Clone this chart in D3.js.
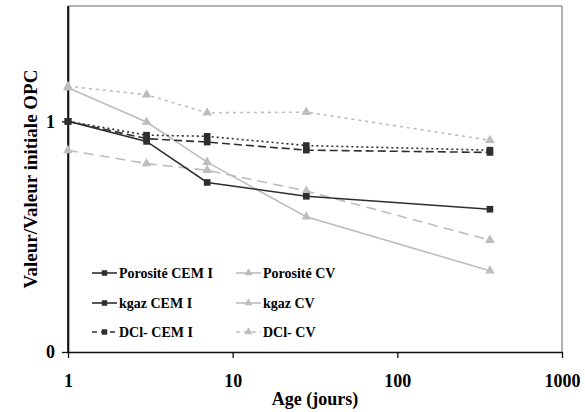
<!DOCTYPE html>
<html><head><meta charset="utf-8">
<script src="https://cdn.jsdelivr.net/npm/d3@7"></script>
<style>html,body{margin:0;padding:0;background:#fff}svg{display:block}</style>
</head><body>
<svg id="c" width="585" height="412"></svg>
<script>
const ages = [1, 3, 7, 28, 365];
const porositeCEM = [1.0, 0.94, 0.935, 0.895, 0.875];
const kgazCEM = [1.0, 0.913, 0.735, 0.675, 0.619];
const dclCEM = [1.0, 0.925, 0.91, 0.875, 0.865];
const porositeCV = [1.152, 1.115, 1.037, 1.04, 0.918];
const kgazCV = [1.146, 0.997, 0.823, 0.586, 0.352];
const dclCV = [0.874, 0.817, 0.788, 0.698, 0.485];
const xTicks = [1, 10, 100, 1000];
const yTicks = [0, 1];
const seriesNames = ["Porosité CEM I", "Porosité CV", "kgaz CEM I", "kgaz CV", "DCl- CEM I", "DCl- CV"];

const BLACK = "#2e2e2e", GRAY = "#bdbdbd";
const series = [
  {name: seriesNames[0], vals: porositeCEM, color: BLACK, dash: "2,3", legDash: null, marker: "sq", w: 1.6},
  {name: seriesNames[1], vals: porositeCV, color: GRAY, dash: "3,4", legDash: null, marker: "tri", w: 1.6},
  {name: seriesNames[2], vals: kgazCEM, color: BLACK, dash: null, legDash: null, marker: "sq", w: 1.6},
  {name: seriesNames[3], vals: kgazCV, color: GRAY, dash: null, legDash: null, marker: "tri", w: 1.6},
  {name: seriesNames[4], vals: dclCEM, color: BLACK, dash: "8,4", legDash: "5,4", marker: "sq", w: 1.6},
  {name: seriesNames[5], vals: dclCV, color: GRAY, dash: "10,6", legDash: "4,4", marker: "tri", w: 1.6}
];

const L = 68, R = 562, T = 6, B = 352;
const x = d3.scaleLog().domain([1, 1000]).range([L, R]);
const y = d3.scaleLinear().domain([0, 1.5]).range([B, T]);
const svg = d3.select("#c");
const font = "'Liberation Serif','Times New Roman',serif";

// frame
svg.append("line").attr("x1", L).attr("x2", R).attr("y1", T).attr("y2", T).attr("stroke", "#9a9a9a").attr("stroke-width", 1.5);
svg.append("line").attr("x1", R).attr("x2", R).attr("y1", T).attr("y2", B).attr("stroke", "#9a9a9a").attr("stroke-width", 1.5);

// axes
const xa = svg.append("g").attr("transform", `translate(0,${B})`)
  .call(d3.axisBottom(x).tickValues(xTicks).tickFormat(d3.format("d")).tickSize(6).tickSizeOuter(0).tickPadding(16));
const ya = svg.append("g").attr("transform", `translate(${L},0)`)
  .call(d3.axisLeft(y).tickValues(yTicks).tickFormat(d3.format("d")).tickSize(6).tickSizeOuter(0).tickPadding(7));
[xa, ya].forEach(g => {
  g.select(".domain").attr("stroke", "#111").attr("stroke-width", 1.6);
  g.selectAll(".tick line").attr("stroke", "#111").attr("stroke-width", 1.3);
  g.selectAll(".tick text").attr("fill", "#000").style("font-family", font).style("font-weight", "bold").style("font-size", "18px");
});
svg.append("line").attr("x1", L).attr("x2", L).attr("y1", T).attr("y2", B).attr("stroke", "#111").attr("stroke-width", 1.6);

// lines
const line = d3.line().x((d, i) => x(ages[i])).y(d => y(d));
const sq = d3.symbol().type(d3.symbolSquare).size(44);
const tri = d3.symbol().type(d3.symbolTriangle).size(40);
const order = [5, 3, 1, 4, 0, 2];
order.forEach(k => {
  const s = series[k];
  svg.append("path").attr("d", line(s.vals)).attr("fill", "none").attr("stroke", s.color)
    .attr("stroke-width", s.w).attr("stroke-dasharray", s.dash);
});
order.forEach(k => {
  const s = series[k];
  svg.append("g").selectAll("path").data(s.vals).join("path")
    .attr("d", s.marker === "sq" ? sq : tri)
    .attr("transform", (d, i) => `translate(${x(ages[i])},${y(d)})`)
    .attr("fill", s.color);
});

// legend
const colX = [92, 236], rowY = [273, 303, 332];
const sqL = d3.symbol().type(d3.symbolSquare).size(30);
const triL = d3.symbol().type(d3.symbolTriangle).size(28);
series.forEach((s, i) => {
  const cx = colX[i % 2], cy = rowY[Math.floor(i / 2)];
  const g = svg.append("g");
  g.append("line").attr("x1", cx).attr("x2", cx + 25).attr("y1", cy).attr("y2", cy)
    .attr("stroke", s.color).attr("stroke-width", 1.6).attr("stroke-dasharray", s.legDash);
  g.append("path").attr("d", s.marker === "sq" ? sqL : triL).attr("transform", `translate(${cx + 12.5},${cy})`).attr("fill", s.color);
  g.append("text").attr("x", cx + 27).attr("y", cy).attr("dy", "0.35em")
    .style("font-family", font).style("font-weight", "bold").style("font-size", "14px").text(s.name);
});

// axis titles
svg.append("text").attr("x", (L + R) / 2).attr("y", 405).attr("text-anchor", "middle")
  .style("font-family", font).style("font-weight", "bold").style("font-size", "18px").text("Age (jours)");
svg.append("text").attr("transform", `translate(37,${(T + B) / 2}) rotate(-90)`).attr("text-anchor", "middle")
  .style("font-family", font).style("font-weight", "bold").style("font-size", "19px").text("Valeur/Valeur initiale OPC");
</script>
</body></html>
